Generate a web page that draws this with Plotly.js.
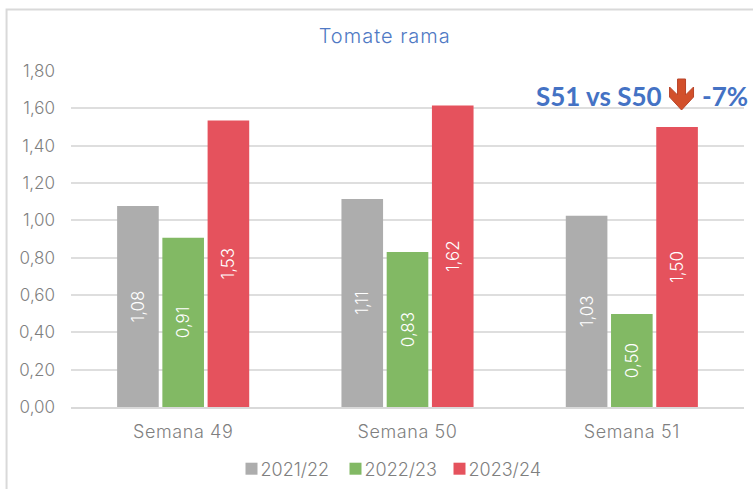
<!DOCTYPE html>
<html><head><meta charset="utf-8">
<script src="https://cdn.plot.ly/plotly-3.0.1.min.js"></script>
<style>html,body{margin:0;padding:0;background:#fff}
.gtitle{letter-spacing:1px}
.xtick text{letter-spacing:.6px}
</style></head>
<body><div id="chart" style="width:753px;height:489px"></div>
<script>
const categories = ["Semana 49","Semana 50","Semana 51"];
const s2122 = [1.077,1.114,1.025];
const s2223 = [0.907,0.83,0.498];
const s2324 = [1.535,1.615,1.50];
const labels2122 = ["1,08","1,11","1,03"];
const labels2223 = ["0,91","0,83","0,50"];
const labels2324 = ["1,53","1,62","1,50"];
const FONT = "Inter, Lato, sans-serif";
const mk = (name, y, color, text) => ({
  type:"bar", name, x:categories, y, text:text, textposition:"inside", insidetextanchor:"middle",
  textangle:-90, textfont:{family:FONT,size:17,color:"#ffffff",weight:300}, constraintext:"none",
  marker:{color, line:{width:0}}, hoverinfo:"skip", cliponaxis:false
});
const data = [
  mk("2021/22", s2122, "#adadad", labels2122),
  mk("2022/23", s2223, "#82b964", labels2223),
  mk("2023/24", s2324, "#e5525d", labels2324)
];
const W=753,H=489,L=71,R=744.5,T=71,B=407;
const px = x => (x-L)/(R-L), py = y => (B-y)/(B-T);
const arrow = [[678,79],[686,79],[686,95],[694,87],[694,97],[682,110],[670,97],[670,87],[678,95]];
const layout = {
  width:W,height:H,paper_bgcolor:"#fff",plot_bgcolor:"#fff",
  font:{family:FONT,color:"#7f7f7f",size:16},
  margin:{l:L,r:W-R,t:T,b:H-B},
  barmode:"group",bargap:0.395,bargroupgap:0.08,
  title:{text:"Tomate rama",x:px(385),xref:"paper",xanchor:"center",y:1-36/H,yanchor:"middle",font:{family:FONT,size:20,weight:300,color:"#4f79c4"}},
  xaxis:{type:"category",showgrid:false,showline:true,linecolor:"#d9d9d9",linewidth:2,ticks:"",ticklabelstandoff:7,tickfont:{family:FONT,size:18,weight:300,color:"#7f7f7f"},automargin:false,fixedrange:true},
  yaxis:{range:[0,1.8],dtick:0.2,tickformat:".2f",showgrid:true,gridcolor:"#dedede",gridwidth:2,zeroline:false,showline:false,ticks:"",ticklen:0,ticklabelstandoff:15,tickfont:{family:FONT,size:17,weight:300,color:"#7f7f7f"},automargin:false,fixedrange:true},
  separators:",.",
  showlegend:true,
  legend:{orientation:"h",x:0.5,xanchor:"center",xref:"container",y:1-469/H,yref:"container",yanchor:"middle",font:{family:FONT,size:18,weight:300,color:"#7f7f7f"},traceorder:"normal",itemwidth:30,entrywidth:59,entrywidthmode:"pixels",bgcolor:"rgba(0,0,0,0)"},
  annotations:[
    {xref:"paper",yref:"paper",x:px(535),y:py(96),xanchor:"left",yanchor:"middle",text:"<b>S51 vs S50</b>",showarrow:false,font:{family:"Lato, sans-serif",size:26,color:"#4472c4"},borderpad:0},
    {xref:"paper",yref:"paper",x:px(750),y:py(96),xanchor:"right",yanchor:"middle",text:"<b>-7%</b>",showarrow:false,font:{family:"Lato, sans-serif",size:26,color:"#4472c4"},borderpad:0}
  ],
  shapes:[
    {type:"rect",xref:"paper",yref:"paper",x0:px(6.5),x1:px(760),y0:py(9.5),y1:py(500),line:{color:"#d9d9d9",width:2},fillcolor:"rgba(0,0,0,0)",layer:"below"},
    {type:"rect",xref:"paper",yref:"paper",x0:px(525),x1:px(750),y0:py(88),y1:py(122),line:{width:0},fillcolor:"#fff",layer:"between"},
    {type:"path",xref:"paper",yref:"paper",path:"M"+arrow.map(p=>px(p[0])+","+py(p[1])).join(" L")+" Z",fillcolor:"#d2502b",line:{color:"#b8452a",width:1}}
  ]
};
Plotly.newPlot("chart",data,layout,{displayModeBar:false,staticPlot:true}).then(()=>{
  document.querySelectorAll(".legend .legendpoints").forEach(g=>g.setAttribute("transform","translate(11,0)"));
  document.querySelectorAll(".legend .scrollbox").forEach(g=>g.removeAttribute("clip-path"));
});
</script></body></html>
